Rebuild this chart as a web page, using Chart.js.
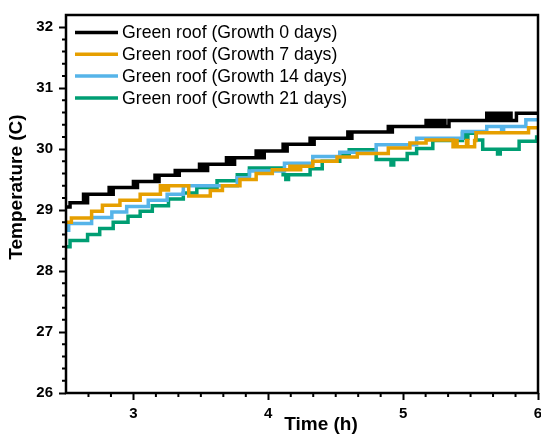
<!DOCTYPE html>
<html>
<head>
<meta charset="utf-8">
<script src="https://cdn.jsdelivr.net/npm/chart.js@4.4.0/dist/chart.umd.min.js"></script>
<style>
  body { margin: 0; background: #fff; }
</style>
</head>
<body>
<canvas id="myChart" width="541" height="437"></canvas>
<script>
// readings as [time (h), temperature (C)], one list per growth stage
// (short back-and-forth runs are where the sensor flickers between two values)
const growth0 = [
    [2.50, 29.05], [2.53, 29.12],
    [2.63, 29.26], [2.645, 29.12], [2.66, 29.26],
    [2.82, 29.37], [2.835, 29.26], [2.85, 29.37],
    [3.00, 29.47], [3.015, 29.37], [3.03, 29.47],
    [3.16, 29.57], [3.175, 29.47], [3.19, 29.57],
    [3.31, 29.65], [3.325, 29.57], [3.34, 29.65],
    [3.49, 29.75], [3.505, 29.65], [3.52, 29.75], [3.535, 29.65], [3.55, 29.75],
    [3.69, 29.86], [3.705, 29.75], [3.72, 29.86], [3.735, 29.75], [3.75, 29.86],
    [3.91, 29.97], [3.925, 29.86], [3.94, 29.97], [3.955, 29.86], [3.97, 29.97],
    [4.11, 30.08], [4.125, 29.97], [4.14, 30.08],
    [4.31, 30.18], [4.325, 30.08], [4.34, 30.18],
    [4.59, 30.28], [4.605, 30.18], [4.62, 30.28],
    [4.89, 30.37], [4.905, 30.28], [4.92, 30.37],
    [5.17, 30.47], [5.19, 30.37], [5.21, 30.47], [5.23, 30.37], [5.25, 30.47],
    [5.27, 30.37], [5.29, 30.47], [5.31, 30.37], [5.34, 30.47],
    [5.62, 30.59], [5.64, 30.47], [5.66, 30.59], [5.68, 30.47], [5.70, 30.59],
    [5.72, 30.47], [5.74, 30.59], [5.76, 30.47], [5.78, 30.59], [5.80, 30.47],
    [5.84, 30.59], [6.00, 30.59]
];
const growth7 = [
    [2.50, 28.80], [2.54, 28.87], [2.69, 28.98], [2.77, 29.08], [2.90, 29.16], [3.05, 29.26],
    [3.20, 29.40], [3.215, 29.33], [3.23, 29.40], [3.245, 29.33], [3.26, 29.40],
    [3.41, 29.23], [3.57, 29.32], [3.66, 29.40], [3.79, 29.50], [3.91, 29.60], [4.03, 29.66],
    [4.16, 29.72], [4.18, 29.66], [4.20, 29.72], [4.22, 29.66], [4.24, 29.72],
    [4.33, 29.80], [4.51, 29.87], [4.66, 29.93], [4.89, 30.02], [5.05, 30.10], [5.17, 30.15],
    [5.37, 30.04], [5.38, 30.14], [5.40, 30.04], [5.47, 30.14], [5.48, 30.04], [5.53, 30.14],
    [5.54, 30.27], [5.93, 30.35], [6.00, 30.35]
];
const growth14 = [
    [2.50, 28.67], [2.52, 28.78], [2.69, 28.88], [2.84, 28.97], [2.95, 29.06], [3.11, 29.16],
    [3.25, 29.26], [3.37, 29.40], [3.77, 29.53], [3.86, 29.64], [4.12, 29.77], [4.33, 29.88],
    [4.53, 29.95], [4.80, 30.07], [5.10, 30.18], [5.44, 30.29], [5.62, 30.37],
    [5.73, 30.30], [5.745, 30.37], [5.91, 30.48], [6.00, 30.48]
];
const growth21 = [
    [2.50, 28.40], [2.53, 28.50], [2.66, 28.60], [2.75, 28.70], [2.85, 28.80], [2.96, 28.90],
    [3.05, 28.98], [3.14, 29.07], [3.26, 29.18], [3.37, 29.28], [3.47, 29.37], [3.62, 29.48],
    [3.77, 29.58], [3.86, 29.69],
    [4.11, 29.58], [4.13, 29.50], [4.15, 29.58], [4.31, 29.68], [4.40, 29.80], [4.53, 29.90],
    [4.60, 29.99], [4.80, 29.83], [4.91, 29.74], [4.93, 29.83], [5.03, 29.93], [5.10, 30.01],
    [5.22, 30.14], [5.44, 30.26], [5.46, 30.18], [5.48, 30.26], [5.54, 30.15], [5.59, 30.00],
    [5.70, 29.92], [5.72, 30.00], [5.86, 30.13], [5.99, 30.20], [6.00, 30.20]
];

const seriesLabels = [
    'Green roof (Growth 0 days)',
    'Green roof (Growth 7 days)',
    'Green roof (Growth 14 days)',
    'Green roof (Growth 21 days)'
];
const seriesColors = ['#000000', '#E69F00', '#56B4E9', '#009E73'];
const xTicks = [3, 4, 5, 6];
const yTicks = [26, 27, 28, 29, 30, 31, 32];

const FONT = 'Arial, "Liberation Sans", sans-serif';
Chart.defaults.font.family = FONT;
Chart.defaults.color = '#000';

// box, minor ticks, axis titles and legend
const framePlugin = {
    id: 'framePlugin',
    afterDraw(chart) {
        const ctx = chart.ctx;
        const a = chart.chartArea;
        const x = chart.scales.x;
        const y = chart.scales.y;
        ctx.save();
        ctx.strokeStyle = '#000';
        ctx.lineWidth = 2.5;
        ctx.strokeRect(a.left, a.top, a.right - a.left, a.bottom - a.top);

        // minor ticks
        ctx.lineWidth = 2;
        ctx.beginPath();
        for (let i = 1; i < 21; i++) {
            if (i % 6 === 3) continue;
            const px = x.getPixelForValue(2.5 + i / 6);
            ctx.moveTo(px, a.bottom);
            ctx.lineTo(px, a.bottom + 4);
        }
        for (let i = 1; i < 31; i++) {
            if (i % 5 === 0) continue;
            const py = y.getPixelForValue(26 + i * 0.2);
            ctx.moveTo(a.left, py);
            ctx.lineTo(a.left - 4, py);
        }
        ctx.stroke();

        // axis titles
        ctx.fillStyle = '#000';
        ctx.font = 'bold 19px ' + FONT;
        ctx.textAlign = 'center';
        ctx.textBaseline = 'middle';
        ctx.fillText('Time (h)', 321, 425);
        ctx.save();
        ctx.translate(17, 187);
        ctx.rotate(-Math.PI / 2);
        ctx.fillText('Temperature (C)', 0, 0);
        ctx.restore();

        // legend
        ctx.font = '17.7px ' + FONT;
        ctx.textAlign = 'left';
        chart.data.datasets.forEach((ds, i) => {
            const ly = 32.5 + i * 21.8;
            ctx.strokeStyle = ds.borderColor;
            ctx.lineWidth = 3.5;
            ctx.beginPath();
            ctx.moveTo(75, ly);
            ctx.lineTo(118, ly);
            ctx.stroke();
            ctx.fillText(ds.label, 122, ly + 1);
        });
        ctx.restore();
    }
};

const ctx = document.getElementById('myChart').getContext('2d');
new Chart(ctx, {
    type: 'line',
    data: {
        datasets: [growth0, growth7, growth14, growth21].map((s, i) => ({
            label: seriesLabels[i],
            data: s.map(p => ({ x: p[0], y: p[1] })),
            borderColor: seriesColors[i],
            backgroundColor: seriesColors[i],
            borderWidth: 3.5,
            stepped: true,
            pointRadius: 0,
            fill: false
        }))
    },
    options: {
        responsive: false,
        animation: false,
        devicePixelRatio: 1,
        layout: { padding: { top: 11, right: 3, left: 0, bottom: 0 } },
        plugins: {
            legend: { display: false },
            tooltip: { enabled: false }
        },
        scales: {
            x: {
                type: 'linear',
                min: 2.5,
                max: 6,
                afterBuildTicks: s => { s.ticks = xTicks.map(v => ({ value: v })); },
                afterFit: s => { s.height = 44; s.paddingLeft = 0; s.paddingRight = 0; },
                border: { display: false },
                grid: { drawOnChartArea: false, tickLength: 7, tickWidth: 2, tickColor: '#000' },
                ticks: { font: { size: 15, weight: 'bold' }, padding: 5, maxRotation: 0 }
            },
            y: {
                min: 26,
                max: 32.2,
                afterBuildTicks: s => { s.ticks = yTicks.map(v => ({ value: v })); },
                afterFit: s => { s.width = 66; },
                border: { display: false },
                grid: { drawOnChartArea: false, tickLength: 7, tickWidth: 2, tickColor: '#000' },
                ticks: { font: { size: 15, weight: 'bold' }, padding: 6 }
            }
        }
    },
    plugins: [framePlugin]
});
</script>
</body>
</html>
